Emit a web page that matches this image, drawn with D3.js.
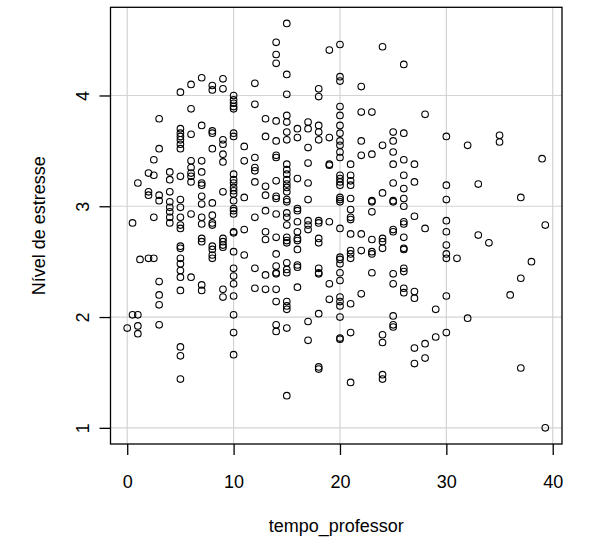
<!DOCTYPE html>
<html>
<head>
<meta charset="utf-8">
<script src="https://cdn.jsdelivr.net/npm/d3@7"></script>
<style>
  body { margin: 0; background: #fff; }
  text { font-family: "Liberation Sans", Arial, sans-serif; }
</style>
</head>
<body>
<svg id="chart" width="605" height="539"></svg>
<script>
// tempo_professor values (x) and the stress readings found at each one
const tempoValores = [0, 0.5, 1, 1.2, 2, 2.5, 3, 4, 5, 6, 7, 8, 9, 10, 11, 12, 13, 14, 15, 16, 17, 18, 19, 20,
    21, 22, 23, 24, 25, 26, 27, 28, 29, 30, 31, 32, 33, 34, 35, 36, 37, 38, 39, 39.3];

const estressePorTempo = [
    [1.90],
    [2.02, 2.85],
    [2.02, 1.92, 1.85, 3.21],
    [2.52],
    [3.30, 3.13, 3.10, 2.53],
    [3.42, 3.28, 2.90, 2.53],
    [3.79, 3.52, 3.10, 3.05, 2.32, 2.20, 2.11, 1.93],
    [3.31, 3.24, 3.13, 3.04, 2.99, 2.95, 2.90, 2.85],
    [4.03, 3.70, 3.66, 3.63, 3.60, 3.56, 3.52, 3.27, 3.06, 2.99, 2.90, 2.83, 2.80, 2.64, 2.62, 2.53, 2.48, 2.42, 2.36, 2.24, 1.73, 1.65, 1.44],
    [4.10, 3.88, 3.65, 3.41, 3.35, 3.30, 3.27, 3.22, 2.93, 2.36],
    [4.16, 3.73, 3.41, 3.31, 3.21, 3.19, 3.09, 3.02, 2.90, 2.84, 2.71, 2.68, 2.29, 2.24],
    [4.09, 4.05, 3.68, 3.66, 3.52, 3.03, 2.92, 2.85, 2.83, 2.64, 2.61, 2.56, 2.53],
    [4.15, 4.06, 3.60, 3.56, 3.47, 3.40, 3.13, 2.71, 2.68, 2.65, 2.63, 2.25, 2.18],
    [4.00, 3.96, 3.93, 3.90, 3.88, 3.66, 3.63, 3.29, 3.24, 3.21, 3.17, 3.14, 3.11, 3.05, 2.98, 2.96, 2.93, 2.77, 2.76, 2.59, 2.44, 2.37, 2.30, 2.19, 2.02, 1.86, 1.66],
    [3.54, 3.41, 3.08, 2.79, 2.56],
    [4.11, 3.92, 3.44, 3.35, 3.32, 3.22, 2.90, 2.44, 2.26],
    [3.79, 3.63, 3.18, 3.10, 2.96, 2.77, 2.70, 2.38, 2.25],
    [4.48, 4.37, 4.29, 3.77, 3.59, 3.46, 3.44, 3.23, 3.09, 3.07, 2.93, 2.72, 2.57, 2.46, 2.40, 2.39, 2.25, 2.14, 1.93, 1.87],
    [4.65, 4.19, 4.01, 3.82, 3.76, 3.67, 3.60, 3.38, 3.33, 3.29, 3.24, 3.20, 3.17, 3.13, 3.06, 3.04, 2.94, 2.90, 2.83, 2.72, 2.69, 2.67, 2.49, 2.43, 2.40, 2.14, 2.10, 2.07, 1.90, 1.29],
    [3.70, 3.62, 3.25, 2.98, 2.96, 2.86, 2.77, 2.71, 2.69, 2.61, 2.47, 2.45, 2.27],
    [3.76, 3.70, 3.53, 3.39, 3.21, 3.06, 2.87, 2.83, 2.79, 1.96, 1.79],
    [4.06, 3.99, 3.73, 3.67, 3.60, 2.87, 2.85, 2.71, 2.67, 2.44, 2.40, 2.39, 2.03, 1.55, 1.53],
    [4.41, 3.62, 3.38, 3.37, 2.86, 2.30, 2.16],
    [4.46, 4.17, 4.13, 3.90, 3.82, 3.73, 3.66, 3.59, 3.55, 3.49, 3.44, 3.28, 3.25, 3.22, 3.19, 3.08, 3.06, 3.04, 2.80, 2.54, 2.52, 2.48, 2.40, 2.33, 2.18, 2.14, 2.10, 2.00, 1.81, 1.80],
    [3.38, 3.28, 3.23, 3.19, 3.07, 2.97, 2.90, 2.88, 2.75, 2.60, 2.57, 2.53, 2.12, 1.86, 1.41],
    [4.08, 3.85, 3.59, 3.46, 2.75, 2.60, 2.21],
    [3.85, 3.47, 3.05, 3.04, 2.95, 2.70, 2.59, 2.57, 2.40],
    [4.44, 3.55, 3.12, 2.71, 2.68, 2.62, 1.84, 1.77, 1.48, 1.44],
    [3.67, 3.59, 3.49, 3.38, 3.21, 3.05, 3.04, 2.79, 2.77, 2.39, 2.30, 2.01, 1.93, 1.91],
    [4.28, 3.66, 3.42, 3.28, 3.16, 3.07, 3.00, 2.86, 2.84, 2.72, 2.62, 2.61, 2.44, 2.41, 2.26, 2.22],
    [3.38, 3.22, 2.91, 2.23, 2.17, 1.72, 1.58],
    [3.83, 2.80, 1.76, 1.63],
    [2.07, 1.82],
    [3.63, 3.19, 3.06, 2.87, 2.77, 2.65, 2.57, 2.53, 2.19, 1.86],
    [2.53],
    [3.55, 1.99],
    [3.20, 2.74],
    [2.67],
    [3.64, 3.58],
    [2.20],
    [3.08, 2.35, 1.54],
    [2.50],
    [3.43],
    [2.83, 1.00]
];

const xTicks = [0, 10, 20, 30, 40];
const yTicks = [1, 2, 3, 4];
const xTitulo = "tempo_professor";
const yTitulo = "Nível de estresse";

const pontos = tempoValores.flatMap((t, i) => estressePorTempo[i].map(e => ({ t: t, e: e })));

// R style axis range: data extent widened by 4% on each side
function faixaR(ext) {
    const r = ext[1] - ext[0];
    return [ext[0] - 0.04 * r, ext[1] + 0.04 * r];
}

const box = { left: 110.5, right: 562, top: 7.3, bottom: 444 };
const linha = 22; // one margin line in px
const fonte = 18;

const svg = d3.select("#chart");

const x = d3.scaleLinear()
    .domain(faixaR(d3.extent(pontos, d => d.t)))
    .range([box.left, box.right]);

const y = d3.scaleLinear()
    .domain(faixaR(d3.extent(pontos, d => d.e)))
    .range([box.bottom, box.top]);

// grid
const grade = svg.append("g").attr("stroke", "#d3d3d3").attr("stroke-width", 1.2);
grade.selectAll("line.gx")
    .data(xTicks)
    .join("line")
        .attr("class", "gx")
        .attr("x1", d => x(d)).attr("x2", d => x(d))
        .attr("y1", box.top).attr("y2", box.bottom);
grade.selectAll("line.gy")
    .data(yTicks)
    .join("line")
        .attr("class", "gy")
        .attr("x1", box.left).attr("x2", box.right)
        .attr("y1", d => y(d)).attr("y2", d => y(d));

// points
svg.append("g")
    .selectAll("circle")
    .data(pontos)
    .join("circle")
        .attr("cx", d => x(d.t))
        .attr("cy", d => y(d.e))
        .attr("r", 3.3)
        .attr("fill", "none")
        .attr("stroke", "#000")
        .attr("stroke-width", 1.1);

// axes
const eixoX = svg.append("g")
    .attr("transform", `translate(0,${box.bottom})`)
    .call(d3.axisBottom(x).tickValues(xTicks).tickSize(11).tickPadding(0).tickFormat(d3.format("d")));
eixoX.select(".domain").remove();
eixoX.selectAll("line").attr("stroke-width", 1.3);
eixoX.selectAll("text")
    .attr("y", 2 * linha)
    .attr("dy", null)
    .attr("font-size", fonte)
    .attr("font-family", "Liberation Sans, Arial, sans-serif")
    .attr("fill", "#000");

const eixoY = svg.append("g")
    .attr("transform", `translate(${box.left},0)`)
    .call(d3.axisLeft(y).tickValues(yTicks).tickSize(11).tickFormat(d3.format("d")));
eixoY.select(".domain").remove();
eixoY.selectAll("line").attr("stroke-width", 1.3);
eixoY.selectAll("text")
    .attr("x", null)
    .attr("dy", null)
    .attr("transform", `translate(${-linha},0) rotate(-90)`)
    .attr("text-anchor", "middle")
    .attr("font-size", fonte)
    .attr("font-family", "Liberation Sans, Arial, sans-serif")
    .attr("fill", "#000");

// box
svg.append("rect")
    .attr("x", box.left).attr("y", box.top)
    .attr("width", box.right - box.left)
    .attr("height", box.bottom - box.top)
    .attr("fill", "none")
    .attr("stroke", "#000")
    .attr("stroke-width", 1.3);

// titles
svg.append("text")
    .attr("x", (box.left + box.right) / 2)
    .attr("y", box.bottom + 4 * linha)
    .attr("text-anchor", "middle")
    .attr("font-size", fonte)
    .text(xTitulo);

svg.append("text")
    .attr("transform", `translate(${box.left - 3 * linha},${(box.top + box.bottom) / 2}) rotate(-90)`)
    .attr("text-anchor", "middle")
    .attr("font-size", fonte)
    .text(yTitulo);
</script>
</body>
</html>
